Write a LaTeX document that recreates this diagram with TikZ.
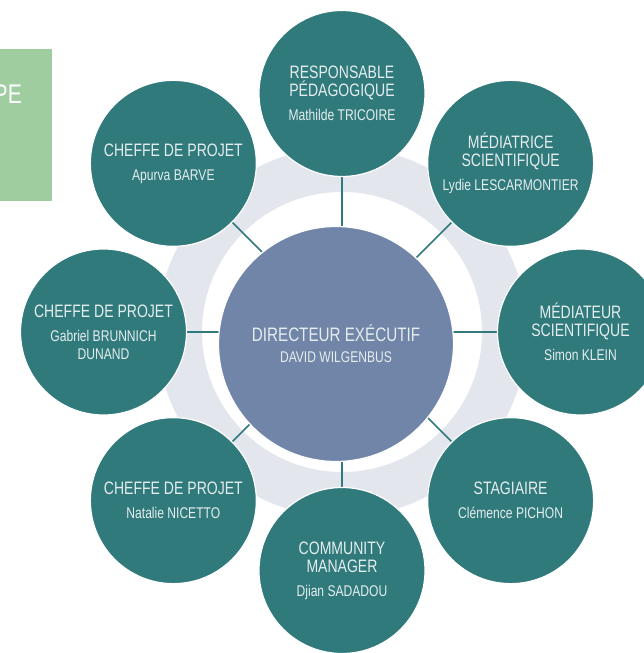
\documentclass[tikz,border=0pt]{standalone}
\usepackage{fontspec}
\setmainfont[FakeStretch=0.78]{Liberation Sans}
\usetikzlibrary{calc, positioning}
\pgfdeclarelayer{background}
\pgfsetlayers{background,main}
\definecolor{teamteal}{HTML}{317A7C}
\definecolor{headblue}{HTML}{7085A7}
\definecolor{ringgray}{HTML}{E3E6ED}
\definecolor{boxgreen}{HTML}{9FCDA0}
\definecolor{softwhite}{HTML}{E4EDEE}
\newcommand{\who}{\fontsize{15.5}{16}\selectfont}

\begin{document}
\begin{tikzpicture}[x=1pt, y=1pt]
    % --- Styles ---
    \tikzstyle{member}=[circle, draw=white, line width=1.2pt, fill=teamteal, text=softwhite, minimum size=166pt, inner sep=0pt, align=center, font=\fontsize{18}{18}\selectfont]
    \tikzstyle{director}=[circle, draw=white, line width=1.2pt, fill=headblue, text=softwhite, minimum size=235pt, inner sep=0pt, align=center, font=\fontsize{19.5}{20}\selectfont]
    \tikzstyle{link}=[draw=teamteal, line width=1.5pt]

    \useasboundingbox (0,0) rectangle (644,653);

    % --- 1. Side box (cut off) ---
    \fill[boxgreen] (0,452) rectangle (52,604);
    \node[anchor=base east, text=white, inner sep=0pt, font=\fontsize{27}{27}\selectfont] (tag) at (22,549) {PE};

    % --- 2. Director ---
    \coordinate (hub) at (342,321);
    \node[director] (dir) at (336,309) {DIRECTEUR EXÉCUTIF\\[1pt]\who DAVID WILGENBUS};

    % --- 3. Team members around the ring ---
    \node[member] (resp) at ($(hub)+(90:238.5)$) {RESPONSABLE\\PÉDAGOGIQUE\\[6pt]\who Mathilde TRICOIRE};
    \node[member] (medf) at ($(hub)+(45:238.5)$) {MÉDIATRICE\\SCIENTIFIQUE\\[6pt]\who Lydie LESCARMONTIER};
    \node[member] (medm) at ($(hub)+(0:238.5)$) {MÉDIATEUR\\SCIENTIFIQUE\\[6pt]\who Simon KLEIN};
    \node[member] (stag) at ($(hub)+(-45:238.5)$) {STAGIAIRE\\[6pt]\who Clémence PICHON};
    \node[member] (comm) at ($(hub)+(-90:238.5)$) {COMMUNITY\\MANAGER\\[6pt]\who Djian SADADOU};
    \node[member] (cpnn) at ($(hub)+(-135:238.5)$) {CHEFFE DE PROJET\\[6pt]\who Natalie NICETTO};
    \node[member] (cpgb) at ($(hub)+(180:238.5)$) {CHEFFE DE PROJET\\[6pt]\who Gabriel BRUNNICH\\\who DUNAND};
    \node[member] (cpab) at ($(hub)+(135:238.5)$) {CHEFFE DE PROJET\\[6pt]\who Apurva BARVE};

    % --- 4. Ring and links (behind) ---
    \begin{pgfonlayer}{background}
        \fill[ringgray, even odd rule] (hub) circle[radius=185] (hub) circle[radius=140];
        \foreach \m in {resp, medf, medm, stag, comm, cpnn, cpgb, cpab}
            \draw[link] (hub) -- (\m);
    \end{pgfonlayer}

\end{tikzpicture}
\end{document}
